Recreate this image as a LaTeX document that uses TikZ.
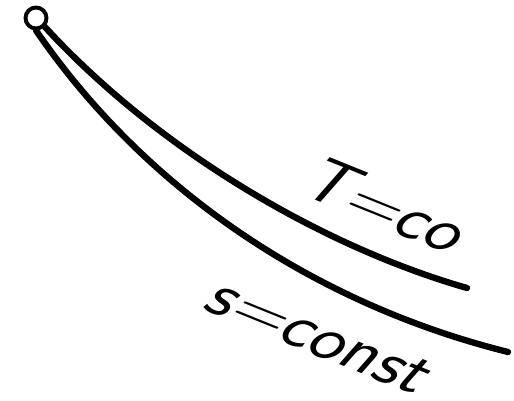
\documentclass[tikz,border=0pt]{standalone}
\usetikzlibrary{positioning}

\begin{document}
\begin{tikzpicture}[
  x=0.02cm, y=-0.02cm,
  curve/.style={line width=3.6pt, line cap=round},
  curvetext/.style={font=\sffamily\fontsize{37}{37}\selectfont, inner sep=0pt,
                    rotate=-22, xslant=0.35, xscale=1.12}
]
  \useasboundingbox (0,0) rectangle (514,401);
  \node[circle, draw, line width=2.2pt, minimum size=0.42cm, inner sep=0pt] (o) at (36,18) {};
  \coordinate (tend) at (467,288);
  \coordinate (send) at (508,352);
  % isotherm and isentrope
  \draw[curve] (o.south east) .. controls (154,146) and (317,245) .. (tend);
  \draw[curve] (o.south) .. controls (137,178) and (300,300) .. (send);
  \node[curvetext] (tlab) at (388,206) {T=co};
  \node[curvetext] (slab) at (320,338) {s=const};
\end{tikzpicture}
\end{document}
